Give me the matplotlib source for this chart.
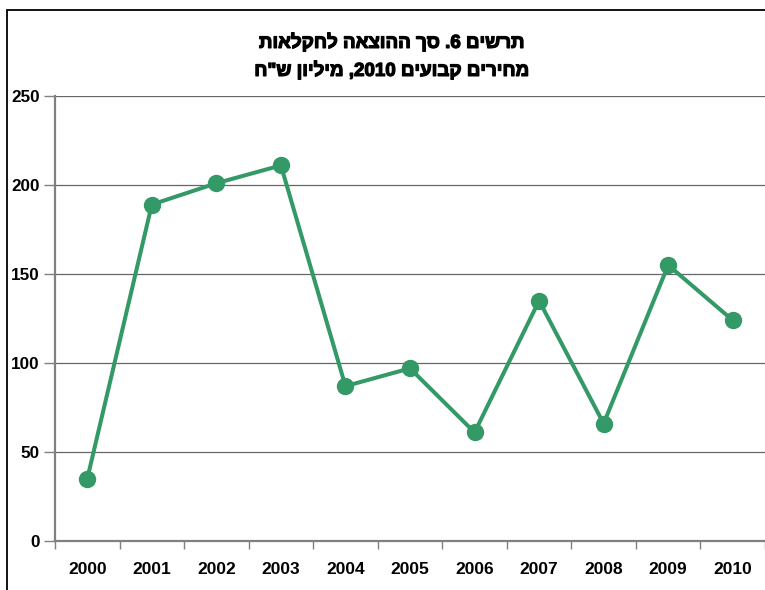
import matplotlib
matplotlib.use("Agg")
import matplotlib.pyplot as plt
import matplotlib.patheffects as pe
from matplotlib.patches import Rectangle
import numpy as np

years = ["2000", "2001", "2002", "2003", "2004", "2005", "2006", "2007", "2008", "2009", "2010"]
values = [35, 189, 201, 211, 87, 97, 61, 135, 66, 155, 124]
yticks = [0, 50, 100, 150, 200, 250]
title_lines = ["תרשים 6. סך ההוצאה לחקלאות", 'מחירים קבועים 2010, מיליון ש"ח']


def visual(s):
    """Convert logical RTL string into left-to-right visual order."""
    r = s[::-1]
    out, buf = [], []
    for ch in r:
        if ch.isdigit():
            buf.append(ch)
        else:
            if buf:
                out.append("".join(buf[::-1]))
                buf = []
            out.append(ch)
    if buf:
        out.append("".join(buf[::-1]))
    return "".join(out)


FONT = ["Liberation Sans", "DejaVu Sans"]
plt.rcParams["font.family"] = FONT

fig = plt.figure(figsize=(7.65, 5.90), dpi=100)
ax = fig.add_axes([55 / 765, 49 / 590, 710 / 765, 445 / 590])

x = np.arange(len(years))
green = "#339966"
ax.plot(x, values, color=green, lw=2.9, marker="o", ms=11.5,
        markerfacecolor=green, markeredgecolor=green, zorder=3)

ax.set_xlim(-0.5, len(years) - 0.5)
ax.set_ylim(0, 250)
ax.set_yticks(yticks)
ax.set_yticklabels([str(t) for t in yticks], fontsize=12.3, fontweight="bold")
ax.grid(axis="y", color="#666666", lw=0.9)
ax.set_axisbelow(True)

ax.set_xticks(x)
ax.set_xticklabels(years, fontsize=12.5, fontweight="bold")
ax.tick_params(axis="x", which="major", length=0, pad=15)
ax.set_xticks(np.arange(-0.5, len(years), 1.0), minor=True)
ax.tick_params(axis="x", which="minor", length=6, color="#808080", width=1)
ax.tick_params(axis="y", length=8, color="#808080", width=1, pad=3)

for s in ["top", "right"]:
    ax.spines[s].set_visible(False)
for s in ["left", "bottom"]:
    ax.spines[s].set_color("#808080")
    ax.spines[s].set_linewidth(1.6)

for i, yy in enumerate([42, 70]):
    fig.text(392 / 765, 1 - yy / 590, visual(title_lines[i]), ha="center", va="center",
             fontsize=13.5, fontweight="bold", family=FONT,
             path_effects=[pe.withStroke(linewidth=0.9, foreground="black")])

frame = Rectangle((7 / 765, -0.1), 1.2, 1 - 10 / 590 + 0.1, transform=fig.transFigure,
                  fill=False, edgecolor="black", lw=1.3, clip_on=False)
fig.patches.append(frame)

fig.savefig("out.png", dpi=100)
